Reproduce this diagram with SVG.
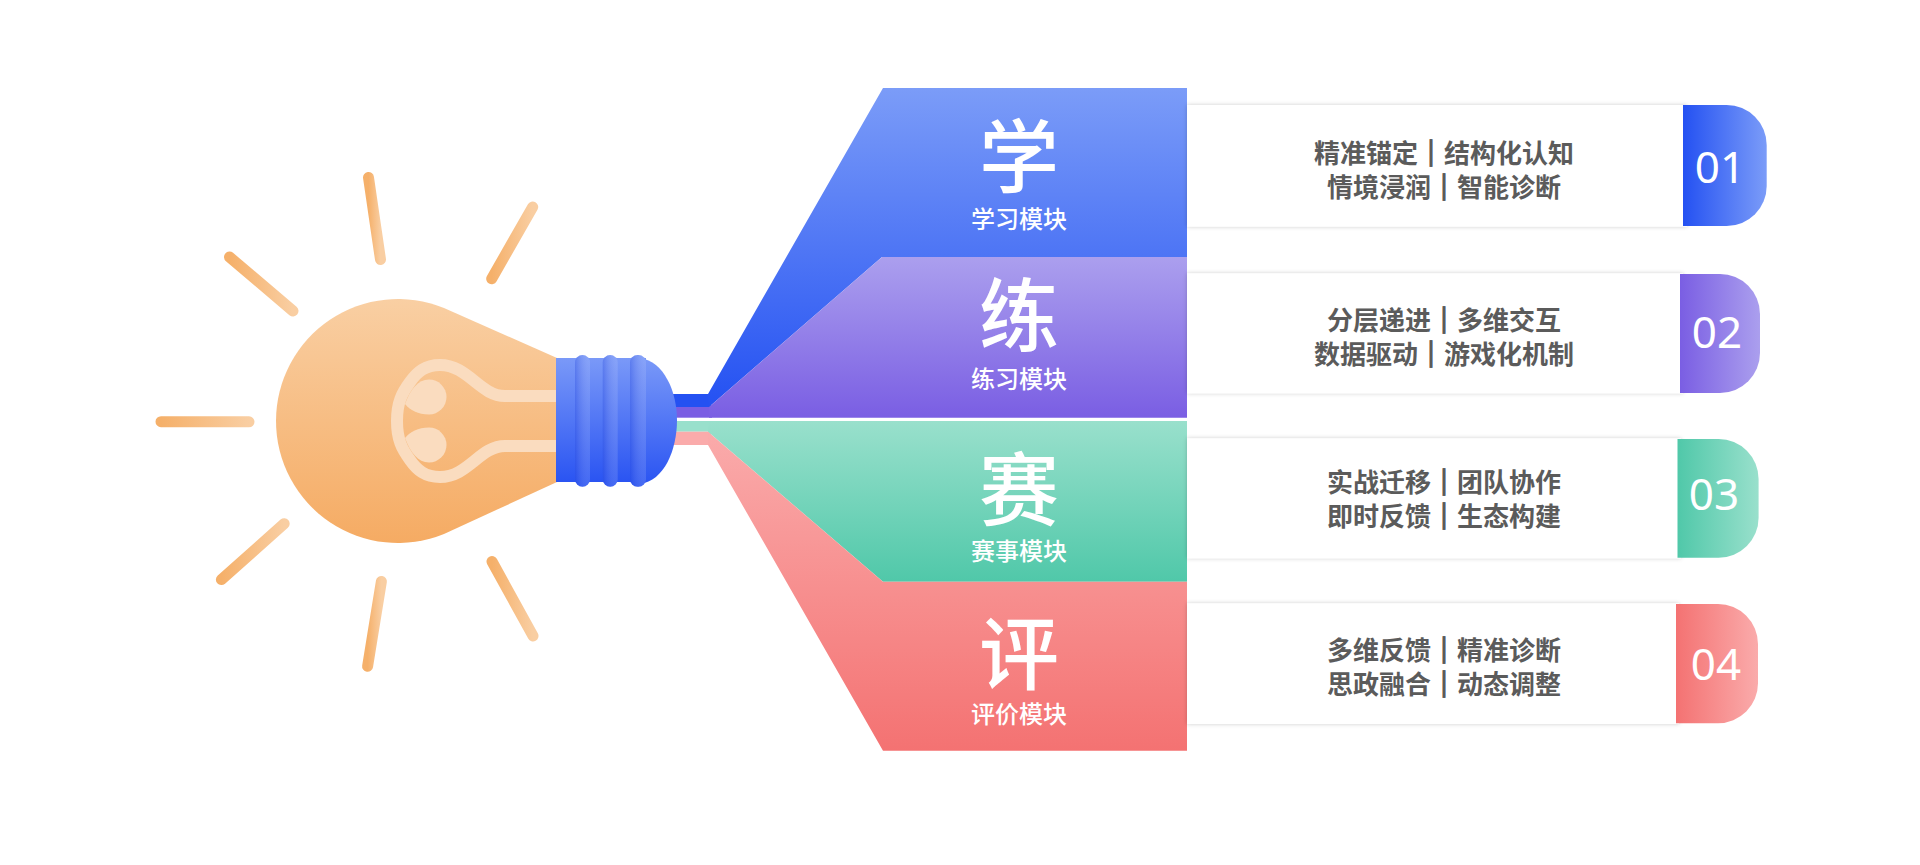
<svg xmlns="http://www.w3.org/2000/svg" width="1920" height="865" viewBox="0 0 1920 865">
<defs>
<linearGradient id="gBlue" x1="0" y1="0" x2="0" y2="1"><stop offset="0" stop-color="#7b9cf8"/><stop offset="1" stop-color="#2451f2"/></linearGradient>
<linearGradient id="gPurple" x1="0" y1="0" x2="0" y2="1"><stop offset="0" stop-color="#ab9fee"/><stop offset="1" stop-color="#7a5ee3"/></linearGradient>
<linearGradient id="gGreen" x1="0" y1="0" x2="0" y2="1"><stop offset="0" stop-color="#99e0cc"/><stop offset="1" stop-color="#50c8a9"/></linearGradient>
<linearGradient id="gPink" x1="0" y1="0" x2="0" y2="1"><stop offset="0" stop-color="#faabab"/><stop offset="1" stop-color="#f47272"/></linearGradient>
<linearGradient id="tBlue" x1="0" y1="0" x2="1" y2="0"><stop offset="0" stop-color="#2451f2"/><stop offset="1" stop-color="#7b9cf8"/></linearGradient>
<linearGradient id="tPurple" x1="0" y1="0" x2="1" y2="0"><stop offset="0" stop-color="#7a5ee3"/><stop offset="1" stop-color="#ab9fee"/></linearGradient>
<linearGradient id="tGreen" x1="0" y1="0" x2="1" y2="0"><stop offset="0" stop-color="#50c8a9"/><stop offset="1" stop-color="#99e0cc"/></linearGradient>
<linearGradient id="tPink" x1="0" y1="0" x2="1" y2="0"><stop offset="0" stop-color="#f47272"/><stop offset="1" stop-color="#faabab"/></linearGradient>
<linearGradient id="gBulb" x1="0" y1="0" x2="0" y2="1"><stop offset="0" stop-color="#f9cfa3"/><stop offset="1" stop-color="#f5ab63"/></linearGradient>
<linearGradient id="gRay" x1="0" y1="0" x2="1" y2="0"><stop offset="0" stop-color="#f5b06a"/><stop offset="1" stop-color="#f9cea2"/></linearGradient>
<linearGradient id="gBase" x1="0" y1="0" x2="0" y2="1"><stop offset="0" stop-color="#7a99f8"/><stop offset="1" stop-color="#2a54f2"/></linearGradient>
<linearGradient id="gRidge" x1="0" y1="0" x2="1" y2="0"><stop offset="0" stop-color="#1e3fd8" stop-opacity="0.3"/><stop offset="1" stop-color="#ffffff" stop-opacity="0.12"/></linearGradient>
<filter id="shadow" x="-5%" y="-20%" width="110%" height="140%"><feDropShadow dx="0" dy="0" stdDeviation="2.2" flood-color="#000" flood-opacity="0.2"/></filter>
</defs>
<style>
.ray{fill:none;stroke:url(#gRay);stroke-width:11;stroke-linecap:round}
.fil{fill:none;stroke:#fadcbf;stroke-width:12}
.big{font-family:"Noto Sans CJK SC",sans-serif;font-size:80px;font-weight:500;fill:#fff;text-anchor:middle}
.sub{font-family:"Noto Sans CJK SC",sans-serif;font-size:24px;font-weight:500;fill:#fff;text-anchor:middle}
.card{fill:#fff;filter:url(#shadow)}
.txt{font-family:"Noto Sans CJK SC",sans-serif;font-size:26px;font-weight:700;fill:#5b5b5b;text-anchor:middle}
.bar{stroke:#5b5b5b;stroke-width:1.8}
.num{font-family:"Noto Sans",sans-serif;font-size:44px;font-weight:400;fill:#fff;text-anchor:middle}
</style>
<rect width="1920" height="865" fill="#fff"/>
<g id="rays">
<line class="ray" x1="368.5" y1="177.5" x2="380.5" y2="259.5"/>
<line class="ray" x1="491.7" y1="278.7" x2="532.7" y2="207"/>
<line class="ray" x1="229.5" y1="257" x2="293" y2="311"/>
<path class="ray" d="M161,421.7 L249,421.8"/>
<line class="ray" x1="221.4" y1="579.6" x2="284.2" y2="523.7"/>
<line class="ray" x1="367.6" y1="666.3" x2="381.4" y2="581.4"/>
<line class="ray" x1="492" y1="561.5" x2="533" y2="635.9"/>
</g>
<g id="connectors">
<rect x="650" y="394" width="61" height="13" fill="#2451f2"/>
<rect x="650" y="407" width="62" height="10.7" fill="#7a5ee3"/>
<rect x="650" y="421" width="62" height="10.7" fill="#99e0cc"/>
<rect x="650" y="431.7" width="61" height="13.3" fill="#faabab"/>
</g>
<g id="bulb">
<path d="M557,358 L444,308 A122,122 0 1,0 444,534 L557,482 Z" fill="url(#gBulb)"/>
<path class="fil" d="M557,396 L505,396 C480,396 468,365 440,365 C425,365 417,372 410,382 C402,393 397,402 397,421 C397,440 402,449 410,460 C417,470 425,477 440,477 C468,477 480,446 505,446 L557,446"/>
<path d="M405,404 C410,390 418,379.5 429,379.5 A17.5,17.5 0 1,1 429,414.5 C418,414.5 410,410 405,404 Z" fill="#fadcbf"/>
<path d="M405,438 C410,452 418,462.5 429,462.5 A17.5,17.5 0 1,0 429,427.5 C418,427.5 410,432 405,438 Z" fill="#fadcbf"/>
<path d="M640,358 C664,361 677,392 677,420 C677,450 664,481 640,484 Z" fill="url(#gBase)"/>
<rect x="556" y="358" width="90" height="124" fill="url(#gBase)"/>
<rect x="575" y="355" width="15" height="131.7" rx="7.5" fill="url(#gBase)"/>
<rect x="575" y="355" width="15" height="131.7" rx="7.5" fill="url(#gRidge)"/>
<rect x="602.7" y="355" width="15" height="131.7" rx="7.5" fill="url(#gBase)"/>
<rect x="602.7" y="355" width="15" height="131.7" rx="7.5" fill="url(#gRidge)"/>
<rect x="630" y="355" width="16" height="131.7" rx="7.5" fill="url(#gBase)"/>
<rect x="630" y="355" width="16" height="131.7" rx="7.5" fill="url(#gRidge)"/>
</g>
<g id="module-xue">
<path d="M708,394 L883,88 L1187,88 L1187,257 L882,257 L709,407 Z" fill="url(#gBlue)"/>
<text class="big" x="1019" y="186">学</text>
<text class="sub" x="1019" y="228">学习模块</text>
<rect class="card" x="1187" y="105" width="500" height="121.7"/>
<text class="txt" x="1444" y="163">精准锚定<tspan class="bar">｜</tspan>结构化认知</text>
<text class="txt" x="1444" y="197.3">情境浸润<tspan class="bar">｜</tspan>智能诊断</text>
<path d="M1683,105 H1726.7 A40,40 0 0 1 1766.7,145 V186 A40,40 0 0 1 1726.7,226 H1683 Z" fill="url(#tBlue)"/>
<text class="num" x="1720" y="182.7">01</text>
</g>
<g id="module-lian">
<path d="M709,407 L882,257 L1187,257 L1187,417.7 L709,417.7 Z" fill="url(#gPurple)"/>
<text class="big" x="1019" y="345">练</text>
<text class="sub" x="1019" y="388.3">练习模块</text>
<rect class="card" x="1187" y="273.3" width="496" height="120"/>
<text class="txt" x="1444" y="329.7">分层递进<tspan class="bar">｜</tspan>多维交互</text>
<text class="txt" x="1444" y="364">数据驱动<tspan class="bar">｜</tspan>游戏化机制</text>
<path d="M1680,274 H1720 A40,40 0 0 1 1760,314 V353 A40,40 0 0 1 1720,393 H1680 Z" fill="url(#tPurple)"/>
<text class="num" x="1717" y="348.3">02</text>
</g>
<g id="module-sai">
<path d="M709,421 L1187,421 L1187,581.7 L883,581.7 L708,431.7 Z" fill="url(#gGreen)"/>
<text class="big" x="1019" y="519.4">赛</text>
<text class="sub" x="1019" y="560">赛事模块</text>
<rect class="card" x="1187" y="438.3" width="494" height="120"/>
<text class="txt" x="1444" y="492">实战迁移<tspan class="bar">｜</tspan>团队协作</text>
<text class="txt" x="1444" y="526.3">即时反馈<tspan class="bar">｜</tspan>生态构建</text>
<path d="M1677.5,439 H1718.6 A40,40 0 0 1 1758.6,479 V517.7 A40,40 0 0 1 1718.6,557.7 H1677.5 Z" fill="url(#tGreen)"/>
<text class="num" x="1714" y="510">03</text>
</g>
<g id="module-ping">
<path d="M708,431.7 L883,581.7 L1187,581.7 L1187,750.7 L883,750.7 L708,445 Z" fill="url(#gPink)"/>
<text class="big" x="1019" y="682.7">评</text>
<text class="sub" x="1019" y="723.3">评价模块</text>
<rect class="card" x="1187" y="603.3" width="492" height="120.7"/>
<text class="txt" x="1444" y="659.7">多维反馈<tspan class="bar">｜</tspan>精准诊断</text>
<text class="txt" x="1444" y="694">思政融合<tspan class="bar">｜</tspan>动态调整</text>
<path d="M1676,604 H1718 A40,40 0 0 1 1758,644 V683.3 A40,40 0 0 1 1718,723.3 H1676 Z" fill="url(#tPink)"/>
<text class="num" x="1716" y="680">04</text>
</g>
</svg>
